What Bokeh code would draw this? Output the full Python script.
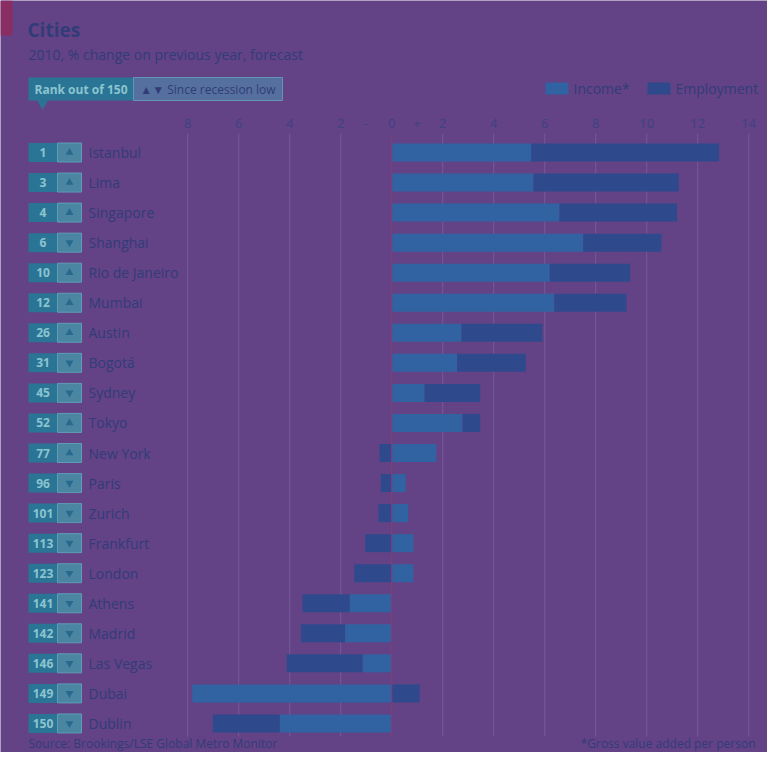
from bokeh.plotting import figure
from bokeh.models import Range1d, Label
from bokeh.core.properties import value
from bokeh.embed import file_html
from bokeh.resources import INLINE

# ---- data ----
cities = ["Istanbul", "Lima", "Singapore", "Shanghai", "Rio de Janeiro", "Mumbai",
          "Austin", "Bogotá", "Sydney", "Tokyo", "New York", "Paris", "Zurich",
          "Frankfurt", "London", "Athens", "Madrid", "Las Vegas", "Dubai", "Dublin"]
ranks = [1, 3, 4, 6, 10, 12, 26, 31, 45, 52, 77, 96, 101, 113, 123, 141, 142, 146, 149, 150]
since_low = ["up", "up", "up", "down", "up", "up", "up", "down", "down", "up",
             "up", "down", "down", "down", "down", "down", "down", "down", "down", "down"]
income = [5.47, 5.56, 6.58, 7.51, 6.20, 6.38, 2.74, 2.57, 1.29, 2.78,
          1.75, 0.55, 0.65, 0.85, 0.85, -1.65, -1.83, -1.14, -7.82, -4.39]
employment = [7.37, 5.70, 4.61, 3.07, 3.15, 2.83, 3.17, 2.69, 2.18, 0.69,
              -0.48, -0.43, -0.52, -1.04, -1.47, -1.85, -1.73, -2.98, 1.10, -2.63]
tick_values = [-8, -6, -4, -2, 0, 2, 4, 6, 8, 10, 12, 14]
sign_marks = [-1, 1]
sign_labels = ["-", "+"]

# ---- layout helpers (pixel -> data) ----
W, H = 767, 752
ZERO_PX = 391.2
PPU = 25.5
ROW0 = 152
ROW_H = 30.05


def dx(px):
    return (px - ZERO_PX) / PPU


def dy(py):
    return (py - ROW0) / ROW_H


BG = "#634386"
TEXT = "#313c78"
TICK = "#3d4282"
INC_C = "#3163a2"
EMP_C = "#2f4a8c"
RANK_C = "#2a7596"
ARROW_BOX = "#4a86a2"
FONT_S = "Open Sans"
FONT = value(FONT_S)

p = figure(width=W, height=H, output_backend="svg", toolbar_location=None,
           x_range=Range1d(dx(0), dx(W)), y_range=Range1d(dy(H), dy(0)),
           min_border=0, outline_line_color=None)
p.axis.visible = False
p.grid.visible = False
p.background_fill_color = BG
p.border_fill_color = BG

# red corner tag
p.quad(left=dx(0), right=dx(12), top=dy(0), bottom=dy(35), fill_color="#8a2d62", line_color=None)

# title / subtitle
p.add_layout(Label(x=dx(27), y=dy(29), text="Cities", text_font=FONT_S, text_font_size="19px",
                   text_font_style="bold", text_color=TEXT, text_baseline="middle"))
p.add_layout(Label(x=dx(28), y=dy(54), text="2010, % change on previous year, forecast",
                   text_font=FONT_S, text_font_size="14px", text_color=TEXT, text_baseline="middle"))

# header boxes
p.quad(left=dx(28), right=dx(133), top=dy(77), bottom=dy(100), fill_color=RANK_C, line_color=None)
p.scatter(x=[dx(42)], y=[dy(103)], marker="inverted_triangle", size=11, fill_color=RANK_C, line_color=None)
p.add_layout(Label(x=dx(80.5), y=dy(88.5), text="Rank out of 150", text_font=FONT_S, text_font_size="12px",
                   text_font_style="bold", text_color="#8cc4cf", text_align="center", text_baseline="middle"))
p.quad(left=dx(133), right=dx(282), top=dy(77), bottom=dy(100), fill_color="#55709e",
       line_color="#6394b4", line_width=1)
p.add_layout(Label(x=dx(207.5), y=dy(88.5), text="▲▼ Since recession low", text_font=FONT_S,
                   text_font_size="12px", text_color=TEXT, text_align="center", text_baseline="middle"))

# legend
p.quad(left=dx(545), right=dx(568), top=dy(82), bottom=dy(94), fill_color=INC_C, line_color=None)
p.add_layout(Label(x=dx(573), y=dy(88), text="Income*", text_font=FONT_S, text_font_size="14px",
                   text_color=TEXT, text_baseline="middle"))
p.quad(left=dx(647), right=dx(670), top=dy(82), bottom=dy(94), fill_color=EMP_C, line_color=None)
p.add_layout(Label(x=dx(675), y=dy(88), text="Employment", text_font=FONT_S, text_font_size="14px",
                   text_color=TEXT, text_baseline="middle"))

# tick labels & gridlines
p.text(x=tick_values, y=[dy(123)] * len(tick_values), text=[str(abs(v)) for v in tick_values],
       text_font=FONT, text_font_size="13px", text_color=TICK, text_align="center",
       text_baseline="middle")
p.text(x=sign_marks, y=[dy(123)] * 2, text=sign_labels, text_font=FONT, text_font_size="13px",
       text_color=TICK, text_align="center", text_baseline="middle")
grid_x = [v for v in tick_values if v != 0]
p.segment(x0=grid_x, x1=grid_x, y0=[dy(133)] * len(grid_x), y1=[dy(736)] * len(grid_x),
          line_color="#735a9a", line_width=1)

# bars
rows = list(range(len(cities)))
emp_left, emp_right = [], []
for inc, emp in zip(income, employment):
    base = inc if (inc >= 0) == (emp >= 0) else 0
    emp_left.append(min(base, base + emp))
    emp_right.append(max(base, base + emp))
p.hbar(y=rows, left=[min(0, v) for v in income], right=[max(0, v) for v in income], height=0.6,
       fill_color=INC_C, line_color=None)
p.hbar(y=rows, left=emp_left, right=emp_right, height=0.6, fill_color=EMP_C, line_color=None)

# zero line
p.segment(x0=[0], x1=[0], y0=[dy(133)], y1=[dy(736)], line_color="#7a3e7c", line_width=1.3)

# row labels: rank box, arrow box, city
p.hbar(y=rows, left=dx(28), right=dx(57), height=19 / ROW_H, fill_color=RANK_C, line_color=None)
p.hbar(y=rows, left=dx(57), right=dx(81), height=19 / ROW_H, fill_color=ARROW_BOX,
       line_color="#5f9cb6", line_width=1)
p.text(x=[dx(42.5)] * len(rows), y=rows, text=[str(r) for r in ranks], text_font=FONT,
       text_font_size="12px", text_font_style="bold", text_color="#8cc4cf", text_align="center",
       text_baseline="middle")
up_rows = [i for i, s in zip(rows, since_low) if s == "up"]
down_rows = [i for i, s in zip(rows, since_low) if s == "down"]
p.scatter(x=[dx(69)] * len(up_rows), y=up_rows, marker="triangle", size=8,
          fill_color="#276a8e", line_color=None)
p.scatter(x=[dx(69)] * len(down_rows), y=down_rows, marker="inverted_triangle", size=8,
          fill_color="#276a8e", line_color=None)
p.text(x=[dx(88)] * len(rows), y=rows, text=cities, text_font=FONT, text_font_size="14px",
       text_color=TEXT, text_baseline="middle")

# footer
p.add_layout(Label(x=dx(28), y=dy(743), text="Source: Brookings/LSE Global Metro Monitor",
                   text_font=FONT_S, text_font_size="12px", text_color=TEXT, text_baseline="middle"))
p.add_layout(Label(x=dx(755), y=dy(743), text="*Gross value added per person", text_font=FONT_S,
                   text_font_size="12px", text_color=TEXT, text_align="right", text_baseline="middle"))

open("out.html", "w").write(file_html(p, INLINE))
